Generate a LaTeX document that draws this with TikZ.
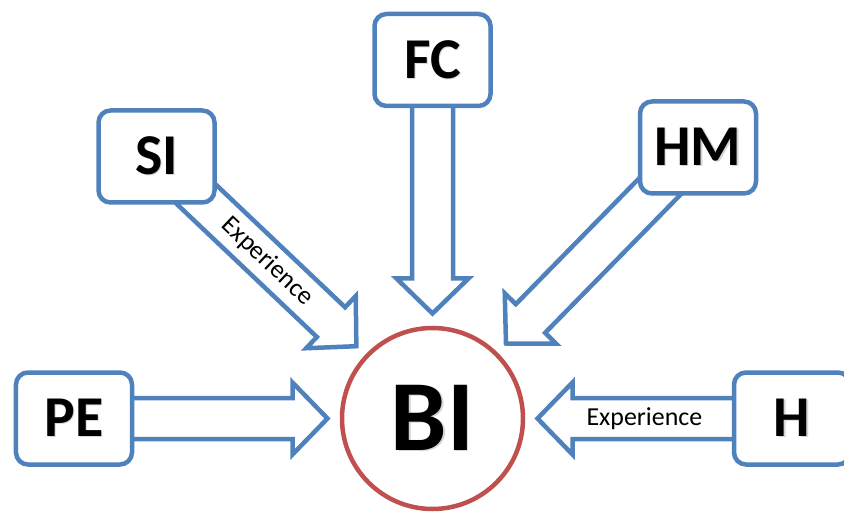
\documentclass[tikz,border=0pt]{standalone}
\usepackage{fontspec}
\setmainfont{Carlito}
\usetikzlibrary{calc,backgrounds}
\definecolor{flowblue}{HTML}{4F81BD}
\definecolor{bired}{HTML}{C0504D}

% bold label with a soft drop shadow
\newcommand{\shadowed}[1]{\makebox[0pt][l]{\hspace{1.3bp}\raisebox{-1.3bp}{\textcolor{black!16}{#1}}}#1}

% hollow block arrow: #1 start coordinate, #2 tip coordinate
\newcommand{\bashaft}{20.5bp}
\newcommand{\babarb}{36bp}
\newcommand{\bahead}{35bp}
\newcommand{\blockarrow}[2]{%
  \coordinate (ba-s) at (#1);
  \coordinate (ba-t) at (#2);
  \coordinate (ba-h) at ($(ba-t)!\bahead!(ba-s)$);
  \draw[blockarrow]
    ($(ba-s)!\bashaft!90:(ba-t)$) -- ($(ba-h)!\bashaft!90:(ba-t)$)
    -- ($(ba-h)!\babarb!90:(ba-t)$) -- (ba-t)
    -- ($(ba-h)!\babarb!-90:(ba-t)$) -- ($(ba-h)!\bashaft!-90:(ba-t)$)
    -- ($(ba-s)!\bashaft!-90:(ba-t)$) -- cycle;
}

\tikzset{
  factor/.style={draw=flowblue, line width=4.5bp, rounded corners=12bp, fill=white,
    minimum width=116bp, minimum height=92bp, inner sep=0pt,
    font=\fontsize{58}{58}\selectfont\bfseries},
  target/.style={circle, draw=bired, line width=4.5bp, fill=white,
    minimum size=181bp, inner sep=0pt,
    font=\fontsize{101}{101}\selectfont\bfseries},
  blockarrow/.style={draw=flowblue, line width=4.5bp, fill=white, line join=miter},
  tag/.style={font=\fontsize{26}{26}\selectfont, inner sep=0pt},
}

\begin{document}
\begin{tikzpicture}[x=1bp, y=-1bp]
  \useasboundingbox (0,0) rectangle (844,515);

  % outcome
  \node[target] (bi) at (432.5,418.5) {\shadowed{BI}};

  % predictors
  \node[factor] (fc) at (432.5,60)  {\shadowed{FC}};
  \node[factor] (si) at (156.5,156.5) {\shadowed{SI}};
  \node[factor] (hm) at (698,147.5) {\shadowed{HM}};
  \node[factor] (pe) at (74,418.5)  {\shadowed{PE}};
  \node[factor] (h)  at (792,418.5) {\shadowed{H}};

  % arrow tips, all at the same distance from the outcome
  \coordinate (fc-tip) at ($(bi.center)!105bp!(fc.center)$);
  \coordinate (si-tip) at ($(bi.center)!105bp!(si.center)$);
  \coordinate (hm-tip) at ($(bi.center)!105bp!(hm.center)$);
  \coordinate (pe-tip) at ($(bi.center)!105bp!(pe.center)$);
  \coordinate (h-tip)  at ($(bi.center)!105bp!(h.center)$);

  \begin{scope}[on background layer]
    \blockarrow{fc.center}{fc-tip}
    \blockarrow{si.center}{si-tip}
    \blockarrow{hm.center}{hm-tip}
    \blockarrow{pe.center}{pe-tip}
    \blockarrow{h.center}{h-tip}
  \end{scope}

  % moderator labels
  \path (si.center) -- (si-tip) node[tag, pos=0.555, sloped] (si-exp) {Experience};
  \node[tag] (h-exp) at ($(h.center)!0.58!(h-tip)$) {Experience};
\end{tikzpicture}
\end{document}
